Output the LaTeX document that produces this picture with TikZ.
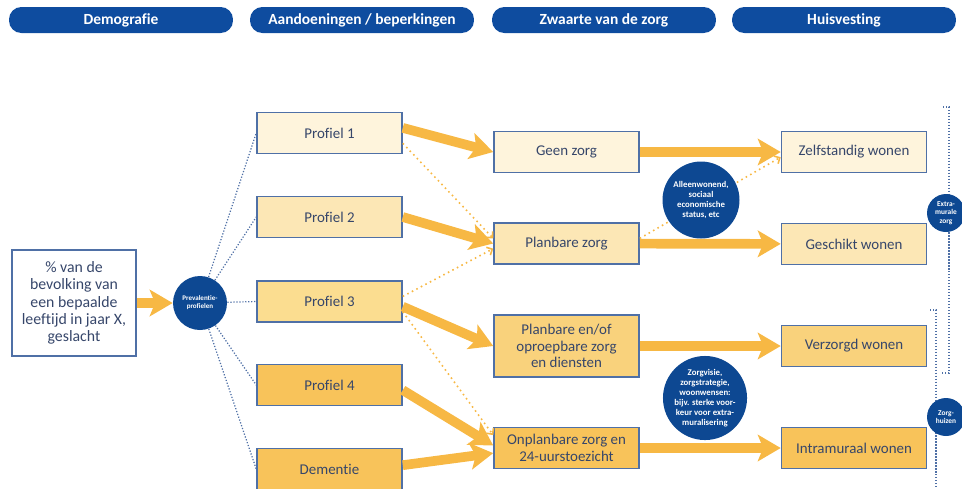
\documentclass[tikz,border=0pt]{standalone}
\usepackage{fontspec}
\setmainfont[Ligatures=NoCommon]{Carlito}
\usetikzlibrary{arrows.meta}

\definecolor{kopblauw}{HTML}{0E4C9F}
\definecolor{bolblauw}{HTML}{0D4892}
\definecolor{rand}{HTML}{4F70A6}
\definecolor{tekst}{HTML}{36466A}
\definecolor{oranje}{HTML}{F7B844}
\definecolor{lvlA}{HTML}{FEF4DC}
\definecolor{lvlB}{HTML}{FCE7B5}
\definecolor{lvlC}{HTML}{FBDD90}
\definecolor{lvlD}{HTML}{F9D27C}
\definecolor{lvlE}{HTML}{F8C35A}

\begin{document}
\begin{tikzpicture}[x=0.02cm, y=-0.02cm,
    every node/.style={font=\fontsize{8.5}{9.5}\selectfont},
    kop/.style={fill=kopblauw, rounded corners=7pt, minimum width=4.48cm, minimum height=0.52cm, inner sep=0pt, text=white, font=\fontsize{8.8}{9}\selectfont\bfseries},
    vak/.style={draw=rand, line width=0.9pt, text=tekst, align=center, minimum width=2.9cm, minimum height=0.82cm, inner sep=0pt},
    bol/.style={circle, fill=bolblauw, text=white, align=center, inner sep=0pt, font=\fontsize{5}{5.7}\selectfont\bfseries},
    pijl/.style={draw=oranje, line width=5.5pt, -{Stealth[length=13pt,width=15pt,inset=3pt]}},
    stip/.style={draw=oranje, line width=0.9pt, dotted, -{Straight Barb[length=2.5pt,width=5pt]}},
    lijn/.style={draw=rand, line width=0.7pt, densely dotted}]

    \useasboundingbox (0,0) rectangle (962,488);

    %kopjes
    \node[kop] (demo) at (121,20) {Demografie};
    \node[kop] (aand) at (362,20) {Aandoeningen / beperkingen};
    \node[kop] (zwaarte) at (604,20) {Zwaarte van de zorg};
    \node[kop] (huis) at (844,20) {Huisvesting};

    %demografie
    \node[vak, minimum width=2.48cm, minimum height=2.12cm, font=\fontsize{9}{9.8}\selectfont] (bevolking) at (74,303) {\% van de\\bevolking van\\een bepaalde\\leeftijd in jaar X,\\geslacht};
    \node[bol, minimum size=1.08cm, font=\fontsize{4}{4.6}\selectfont\bfseries] (prev) at (200,303) {Prevalentie-\\profielen};

    %profielen
    \node[vak, fill=lvlA] (p1) at (329.5,133) {Profiel 1};
    \node[vak, fill=lvlB] (p2) at (329.5,217) {Profiel 2};
    \node[vak, fill=lvlC] (p3) at (329.5,301.5) {Profiel 3};
    \node[vak, fill=lvlE] (p4) at (329.5,385) {Profiel 4};
    \node[vak, fill=lvlE] (dem) at (329.5,469) {Dementie};

    %zorg
    \node[vak, fill=lvlA] (geen) at (566.5,152) {Geen zorg};
    \node[vak, fill=lvlB] (plan) at (566.5,243.5) {Planbare zorg};
    \node[vak, fill=lvlD, minimum height=1.24cm] (oproep) at (566.5,346) {Planbare en/of\\oproepbare zorg\\en diensten};
    \node[vak, fill=lvlE] (onpl) at (566.5,448) {Onplanbare zorg en\\24-uurstoezicht};

    %wonen
    \node[vak, fill=lvlA] (zelf) at (854,152) {Zelfstandig wonen};
    \node[vak, fill=lvlB] (geschikt) at (854,244) {Geschikt wonen};
    \node[vak, fill=lvlD] (verzorgd) at (854,346) {Verzorgd wonen};
    \node[vak, fill=lvlE] (intra) at (854,448) {Intramuraal wonen};

    %prevalentie
    \foreach \p in {p1,p2,p3,p4,dem}
        \draw[lijn] (prev) -- (\p.west);

    %pijlen
    \draw[pijl] (bevolking) -- (prev);
    \draw[pijl] (p1.4) -- (geen.west);
    \draw[pijl] (p2.east) -- (plan.west);
    \draw[pijl] (p3.-4) -- (oproep.west);
    \draw[pijl] (p4.-4) -- (onpl.178);
    \draw[pijl] (dem.3) -- (onpl.184);
    \draw[pijl] (geen) -- (zelf);
    \draw[pijl] (plan) -- (geschikt);
    \draw[pijl] (oproep) -- (verzorgd);
    \draw[pijl] (onpl) -- (intra);

    %stippels
    \draw[stip] (p1.-8) -- (plan.176);
    \draw[stip] (p3.4) -- (plan.184);
    \draw[stip] (p3.-8) -- (onpl.170);
    \draw[stip] (plan.4) -- (zelf.184);

    %factoren
    \node[bol, minimum size=1.54cm] (alleen) at (701,200) {Alleenwonend,\\sociaal\\economische\\status, etc};
    \node[bol, minimum size=1.64cm] (visie) at (705,398) {Zorgvisie,\\zorgstrategie,\\woonwensen:\\bijv. sterke voor-\\keur voor extra-\\muralisering};

    %extramuraal / zorghuizen
    \draw[lijn] (943,107) -- (949,107) -- (949,373) -- (941,373);
    \draw[lijn] (930,310) -- (936,310) -- (936,490);
    \node[bol, minimum size=0.76cm, font=\fontsize{4.2}{4.8}\selectfont\bfseries] (extra) at (946,213) {Extra-\\murale\\zorg};
    \node[bol, minimum size=0.76cm, font=\fontsize{4.2}{4.8}\selectfont\bfseries] (huizen) at (946,417) {Zorg-\\huizen};

\end{tikzpicture}
\end{document}
